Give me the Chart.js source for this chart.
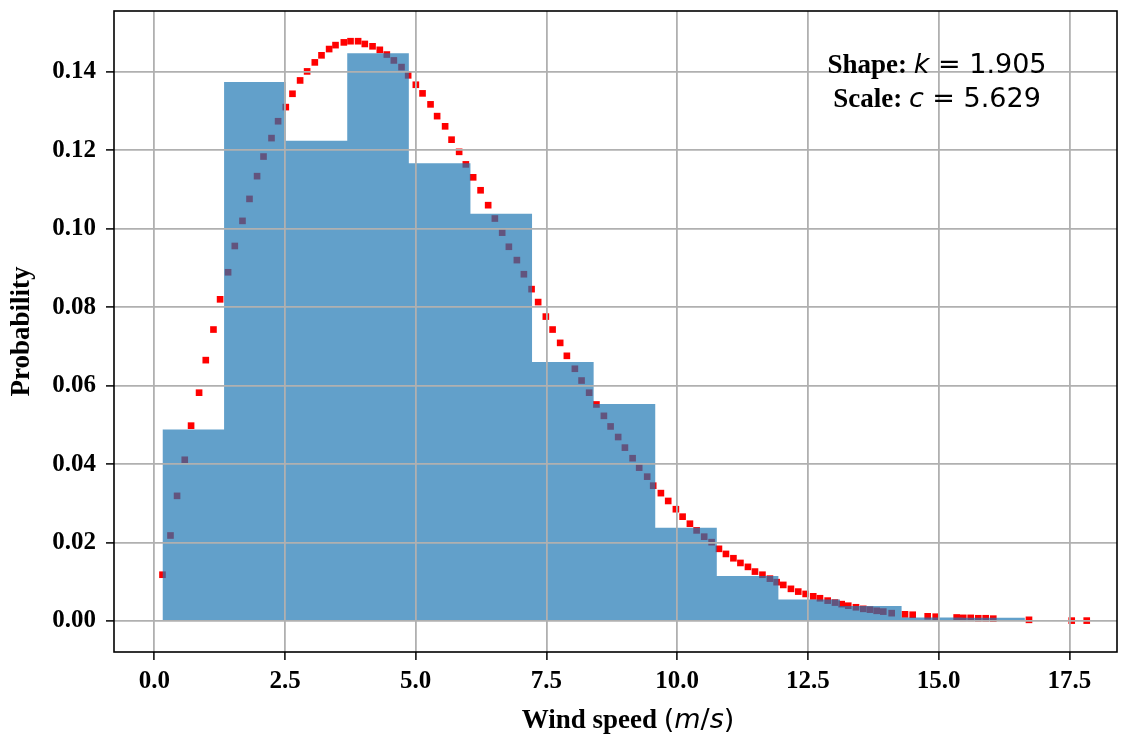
<!DOCTYPE html>
<html>
<head>
<meta charset="utf-8">
<script src="https://cdn.jsdelivr.net/npm/chart.js@4.4.0/dist/chart.umd.min.js"></script>
<style>
  html, body { margin: 0; padding: 0; background: #fff; }
</style>
</head>
<body>
<canvas id="chart" width="1129" height="736"></canvas>
<script>
// Wind speed histogram + fitted Weibull pdf

// histogram bins
const binEdges = [0.157, 1.335, 2.513, 3.69, 4.868, 6.046, 7.224, 8.402, 9.58, 10.757, 11.935, 13.113, 14.291, 15.469, 16.647, 17.825];
const binHeights = [0.0488, 0.1374, 0.1224, 0.1447, 0.1167, 0.1038, 0.0660, 0.0553, 0.0238, 0.0115, 0.0055, 0.0038, 0.0009, 0.0008, 0.0002];

// weibull points (sorted wind speeds)
const windSpeed = [0.157,0.310,0.436,0.583,0.704,0.857,0.985,1.132,1.259,1.412,
  1.540,1.687,1.821,1.966,2.089,2.242,2.368,2.515,2.643,2.789,
  2.923,3.070,3.198,3.344,3.466,3.625,3.753,3.898,4.026,4.174,
  4.313,4.447,4.581,4.728,4.855,5.002,5.130,5.283,5.409,5.562,
  5.685,5.830,5.958,6.098,6.240,6.385,6.513,6.653,6.781,6.934,
  7.068,7.215,7.341,7.488,7.617,7.762,7.890,8.043,8.171,8.316,
  8.455,8.598,8.726,8.871,9.000,9.147,9.273,9.426,9.541,9.688,
  9.828,9.975,10.103,10.243,10.371,10.516,10.658,10.798,10.932,11.075,
  11.209,11.353,11.487,11.630,11.773,11.901,12.028,12.175,12.315,12.456,
  12.601,12.730,12.877,13.017,13.145,13.271,13.418,13.558,13.686,13.814,
  13.941,14.101,14.356,14.503,14.790,14.943,15.344,15.470,15.612,15.757,
  15.899,16.044,16.727,17.544,17.831];
const weibullPdf = [0.0118,0.0218,0.0319,0.0411,0.0498,0.0582,0.0665,0.0743,0.0820,0.0889,
  0.0956,0.1020,0.1076,0.1134,0.1184,0.1231,0.1274,0.1310,0.1344,0.1378,
  0.1401,0.1424,0.1442,0.1458,0.1468,0.1475,0.1478,0.1478,0.1471,0.1465,
  0.1456,0.1444,0.1429,0.1412,0.1391,0.1367,0.1345,0.1317,0.1287,0.1261,
  0.1227,0.1196,0.1164,0.1131,0.1098,0.1060,0.1026,0.0990,0.0954,0.0920,
  0.0884,0.0846,0.0813,0.0776,0.0743,0.0709,0.0676,0.0643,0.0613,0.0582,
  0.0552,0.0523,0.0496,0.0469,0.0442,0.0415,0.0391,0.0368,0.0345,0.0326,
  0.0306,0.0285,0.0266,0.0248,0.0231,0.0215,0.0201,0.0184,0.0171,0.0160,
  0.0148,0.0138,0.0126,0.0118,0.0108,0.0099,0.0092,0.0082,0.0075,0.0069,
  0.0063,0.0058,0.0052,0.0047,0.0043,0.0039,0.0035,0.0031,0.0029,0.0026,
  0.0024,0.0020,0.0017,0.0016,0.0012,0.0011,0.0009,0.0008,0.0008,0.0007,
  0.0007,0.0006,0.0003,0.0001,0.0001];

const xTicks = [0, 2.5, 5, 7.5, 10, 12.5, 15, 17.5];
const yTicks = [0, 0.02, 0.04, 0.06, 0.08, 0.10, 0.12, 0.14];

const shapeK = '1.905';
const scaleC = '5.629';

const TITLE_B = 'bold 27px "Liberation Serif"';
const MATH = '27px "DejaVu Sans"';
const MATH_I = 'italic 27px "DejaVu Sans"';

// step outline of the histogram: one point per bin edge, last height repeated
const histPoints = binEdges.map((e, i) => ({ x: e, y: binHeights[Math.min(i, binHeights.length - 1)] }));

// draw a line made of pieces in different fonts, centred on cx
function drawPieces(ctx, pieces, cx, y) {
  let total = 0;
  pieces.forEach(p => { ctx.font = p[1]; total += ctx.measureText(p[0]).width; });
  let x = cx - total / 2;
  ctx.textAlign = 'left';
  ctx.textBaseline = 'alphabetic';
  pieces.forEach(p => {
    ctx.font = p[1];
    ctx.fillText(p[0], x, y);
    x += ctx.measureText(p[0]).width;
  });
}

const decorations = {
  id: 'decorations',
  afterDraw(chart) {
    const ctx = chart.ctx;
    const a = chart.chartArea;
    ctx.save();
    // frame
    ctx.strokeStyle = '#000';
    ctx.lineWidth = 1.6;
    ctx.strokeRect(a.left, a.top, a.right - a.left, a.bottom - a.top);
    ctx.fillStyle = '#000';

    // x title
    drawPieces(ctx, [
      ['Wind speed ', TITLE_B],
      ['(', MATH], ['m', MATH_I], ['/', MATH], ['s', MATH_I], [')', MATH]
    ], 628, 728);

    // y title
    ctx.save();
    ctx.translate(28.5, (a.top + a.bottom) / 2);
    ctx.rotate(-Math.PI / 2);
    ctx.font = TITLE_B;
    ctx.textAlign = 'center';
    ctx.textBaseline = 'alphabetic';
    ctx.fillText('Probability', 0, 0);
    ctx.restore();

    // fit parameters
    drawPieces(ctx, [['Shape: ', TITLE_B], ['k', MATH_I], [' = ' + shapeK, MATH]], 937, 73);
    drawPieces(ctx, [['Scale: ', TITLE_B], ['c', MATH_I], [' = ' + scaleC, MATH]], 937, 107);
    ctx.restore();
  }
};

new Chart(document.getElementById('chart'), {
  type: 'scatter',
  data: {
    datasets: [
      {
        type: 'line',
        data: histPoints,
        stepped: 'before',
        fill: 'origin',
        backgroundColor: 'rgba(31,119,180,0.7)',
        borderWidth: 0,
        pointRadius: 0,
        order: 0
      },
      {
        type: 'scatter',
        data: windSpeed.map((x, i) => ({ x: x, y: weibullPdf[i] })),
        backgroundColor: '#ff0000',
        borderWidth: 0,
        pointStyle: 'rect',
        pointRadius: 4.7,
        order: 1
      }
    ]
  },
  options: {
    responsive: false,
    animation: false,
    devicePixelRatio: 1,
    layout: { padding: { left: 0, top: 11, right: 12, bottom: 0 } },
    plugins: { legend: { display: false }, tooltip: { enabled: false } },
    scales: {
      x: {
        type: 'linear',
        min: -0.77,
        max: 18.41,
        grid: { color: '#b0b0b0', lineWidth: 1.8, z: 1, tickColor: '#000', tickLength: 8, tickWidth: 1.5 },
        border: { display: false },
        ticks: {
          font: { family: 'Liberation Serif', weight: 'bold', size: 25 },
          color: '#000',
          padding: 7,
          maxRotation: 0,
          autoSkip: false,
          callback: v => v.toFixed(1)
        },
        afterBuildTicks: s => { s.ticks = xTicks.map(v => ({ value: v })); },
        afterFit: s => { s.height = 84; s.paddingLeft = 0; s.paddingRight = 0; }
      },
      y: {
        type: 'linear',
        min: -0.0079,
        max: 0.1555,
        grid: { color: '#b0b0b0', lineWidth: 1.8, z: 1, tickColor: '#000', tickLength: 8, tickWidth: 1.5 },
        border: { display: false },
        ticks: {
          font: { family: 'Liberation Serif', weight: 'bold', size: 25 },
          color: '#000',
          padding: 10,
          autoSkip: false,
          callback: v => v.toFixed(2)
        },
        afterBuildTicks: s => { s.ticks = yTicks.map(v => ({ value: v })); },
        afterFit: s => { s.width = 114; s.paddingTop = 0; s.paddingBottom = 0; }
      }
    }
  },
  plugins: [decorations]
});
</script>
</body>
</html>
